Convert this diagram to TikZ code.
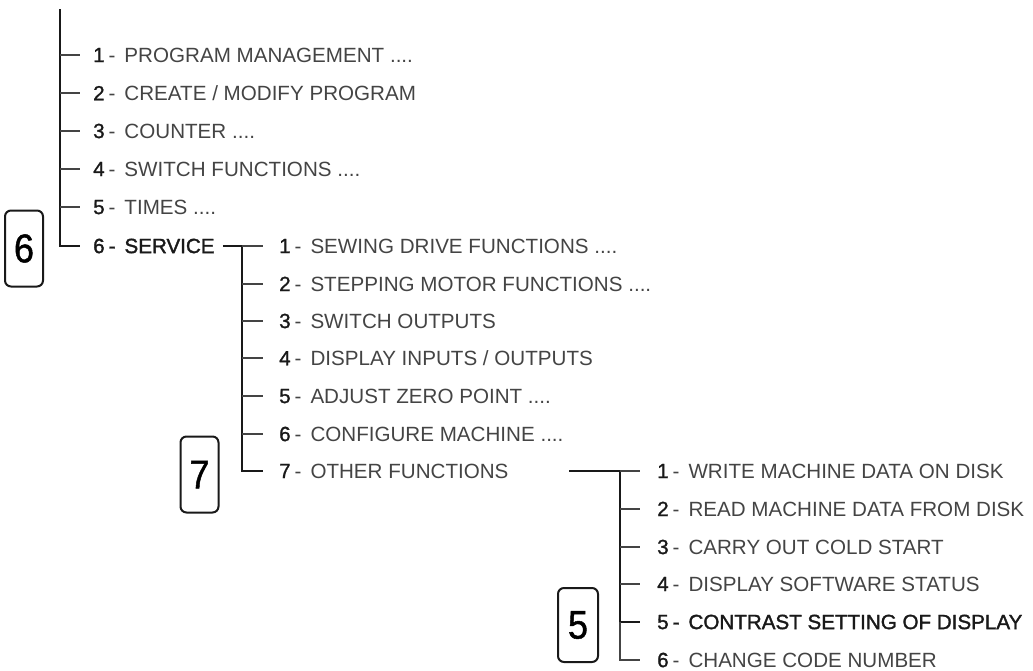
\documentclass[tikz,border=0pt]{standalone}
\usepackage{fontspec}
\setmainfont{Liberation Sans}
\newfontfamily\medfont[FakeBold=1.6]{Liberation Sans}
\newfontfamily\dgfont[FakeBold=1.2]{Liberation Sans}
\definecolor{txt}{RGB}{68,68,68}
\definecolor{dark}{RGB}{25,25,25}
\newcommand{\dg}[1]{{\dgfont\color{dark}#1}}
\newcommand{\itm}[2]{\dg{#1}\hspace{4pt}-\hspace{9pt}#2}
\newcommand{\hitm}[2]{{\medfont\color{dark}#1\hspace{4pt}-\hspace{9pt}#2}}
\tikzset{
  item/.style={anchor=west, inner sep=0pt, text=txt, font=\fontsize{20.6}{24}\selectfont},
  thickl/.style={line width=2.8pt, draw=dark},
  thinl/.style={line width=1.1pt, draw=txt},
  numbox/.style={draw=dark, line width=2pt, rounded corners=6pt, minimum width=38pt, minimum height=76pt, inner sep=0pt, font=\dgfont\fontsize{40}{44}\selectfont}
}
\begin{document}
\begin{tikzpicture}[x=1pt,y=-1pt]
\useasboundingbox (0,0) rectangle (1033,670);
% level 1
\foreach \i/\y in {1/55,2/93,3/131,4/169,5/207,6/246}{\coordinate (c1\i) at (60,\y);}
\coordinate (top) at (60,9);
\node[item] (a1) at (93,55) {\itm{1}{PROGRAM MANAGEMENT ....}};
\node[item] (a2) at (93,93) {\itm{2}{CREATE / MODIFY PROGRAM}};
\node[item] (a3) at (93,131) {\itm{3}{COUNTER ....}};
\node[item] (a4) at (93,169) {\itm{4}{SWITCH FUNCTIONS ....}};
\node[item] (a5) at (93,207) {\itm{5}{TIMES ....}};
\node[item] (a6) at (93,246) {\hitm{6}{SERVICE}};
\draw[thickl] (top) -- (c16) -- ([xshift=-13pt]a6.west);
\foreach \i in {1,...,5}{\draw[thinl] (c1\i) -- ([xshift=-13pt]a\i.west);}
\node[numbox] (box6) at (24,248.5) {\scalebox{0.9}[1]{6}};
% level 2
\foreach \i/\y in {1/246,2/284,3/321,4/358,5/396,6/434,7/471}{\coordinate (c2\i) at (242,\y);}
\node[item] (b1) at (279,246) {\itm{1}{SEWING DRIVE FUNCTIONS ....}};
\node[item] (b2) at (279,284) {\itm{2}{STEPPING MOTOR FUNCTIONS ....}};
\node[item] (b3) at (279,321) {\itm{3}{SWITCH OUTPUTS}};
\node[item] (b4) at (279,358) {\itm{4}{DISPLAY INPUTS / OUTPUTS}};
\node[item] (b5) at (279,396) {\itm{5}{ADJUST ZERO POINT ....}};
\node[item] (b6) at (279,434) {\itm{6}{CONFIGURE MACHINE ....}};
\node[item] (b7) at (279,471) {\itm{7}{OTHER FUNCTIONS}};
\draw[thickl] ([xshift=8pt]a6.east |- c21) -- (c21) -- (c27) -- ([xshift=-16pt]b7.west);
\foreach \i in {1,...,6}{\draw[thinl] (c2\i) -- ([xshift=-16pt]b\i.west);}
\node[numbox] (box7) at (199.5,474.5) {\scalebox{0.9}[1]{7}};
% level 3
\foreach \i/\y in {1/471,2/509,3/547,4/584,5/622,6/660}{\coordinate (c3\i) at (620,\y);}
\coordinate (h3) at (569,471);
\node[item] (d1) at (657,471) {\itm{1}{WRITE MACHINE DATA ON DISK}};
\node[item] (d2) at (657,509) {\itm{2}{READ MACHINE DATA FROM DISK}};
\node[item] (d3) at (657,547) {\itm{3}{CARRY OUT COLD START}};
\node[item] (d4) at (657,584) {\itm{4}{DISPLAY SOFTWARE STATUS}};
\node[item] (d5) at (657,622) {\hitm{5}{CONTRAST SETTING OF DISPLAY}};
\node[item] (d6) at (657,660) {\itm{6}{CHANGE CODE NUMBER}};
\draw[thickl] (h3) -- (c31) -- (c35) -- ([xshift=-17pt]d5.west);
\draw[thinl] (c35) -- (c36) -- ([xshift=-17pt]d6.west);
\foreach \i in {1,...,4}{\draw[thinl] (c3\i) -- ([xshift=-17pt]d\i.west);}
\node[numbox, minimum width=40pt, minimum height=74pt] (box5) at (578,625) {\scalebox{0.9}[1]{5}};
\end{tikzpicture}
\end{document}
